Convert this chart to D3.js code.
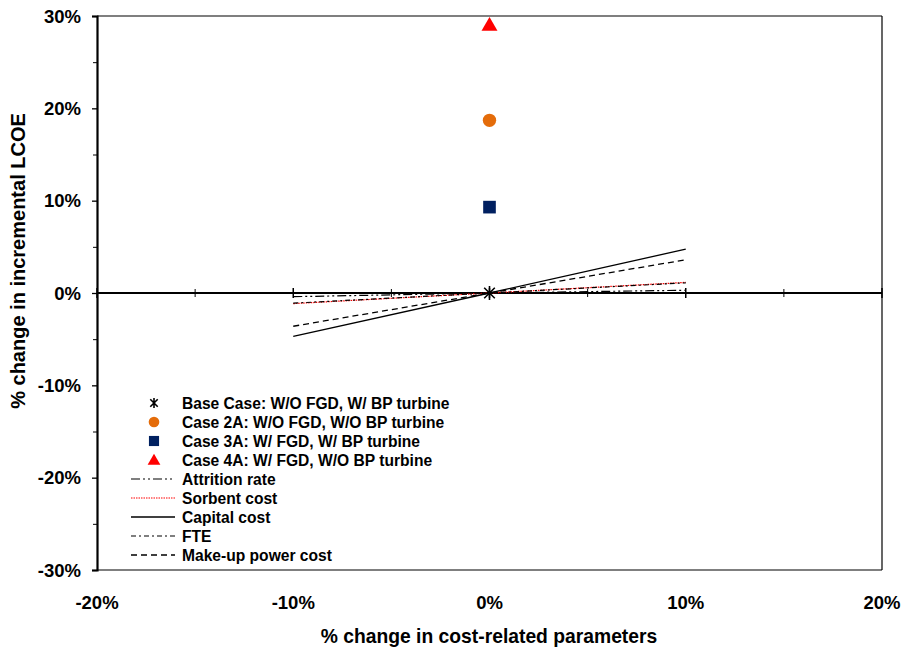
<!DOCTYPE html>
<html>
<head>
<meta charset="utf-8">
<script src="https://cdn.jsdelivr.net/npm/d3@7"></script>
<style>
  html, body { margin: 0; padding: 0; background: #fff; }
  svg { display: block; }
  text { font-family: "Liberation Sans", Arial, sans-serif; font-weight: bold; fill: #000; }
</style>
</head>
<body>
<svg id="chart" width="904" height="652"></svg>
<script>
// Sensitivity of incremental LCOE to ±10% changes in cost-related parameters
const xEnds = [-10, 0, 10];
const attritionRate = [-0.4, 0, 0.3];
const sorbentCost = [-1.15, 0, 1.15];
const capitalCost = [-4.7, 0, 4.75];
const fte = [-1.1, 0, 1.1];
const makeupPowerCost = [-3.6, 0, 3.6];

// Scenario points (all at 0% parameter change)
const caseNames = [
  "Base Case: W/O FGD, W/ BP turbine",
  "Case 2A: W/O FGD, W/O BP turbine",
  "Case 3A: W/ FGD, W/ BP turbine",
  "Case 4A: W/ FGD, W/O BP turbine"
];
const caseX = [0, 0, 0, 0];
const caseY = [0, 18.7, 9.3, 29.0];

const xTicks = [-20, -10, 0, 10, 20];
const yTicks = [-30, -20, -10, 0, 10, 20, 30];
const xMinorTicks = [-15, -5, 5, 15];
const yMinorTicks = [-25, -15, -5, 5, 15, 25];

const svg = d3.select("#chart");
const x = d3.scaleLinear().domain([-20, 20]).range([97, 882]);
const y = d3.scaleLinear().domain([-30, 30]).range([570, 16]);
const pct = d => d + "%";

// frame
svg.append("line").attr("x1", x(-20)).attr("x2", x(20)).attr("y1", y(30)).attr("y2", y(30))
  .attr("stroke", "#000").attr("stroke-width", 1.2);
svg.append("line").attr("x1", x(20)).attr("x2", x(20)).attr("y1", y(30)).attr("y2", y(-30))
  .attr("stroke", "#000").attr("stroke-width", 1.2);
svg.append("line").attr("x1", x(-20)).attr("x2", x(20)).attr("y1", y(-30)).attr("y2", y(-30))
  .attr("stroke", "#000").attr("stroke-width", 1.2);

// y axis (left)
const yAxis = svg.append("g").attr("transform", `translate(${x(-20)},0)`)
  .call(d3.axisLeft(y).tickValues(yTicks).tickFormat(pct).tickSize(5).tickPadding(11));
yAxis.select(".domain").attr("stroke-width", 2.2);
yAxis.selectAll(".tick line").attr("stroke-width", 1.3);
yAxis.selectAll(".tick text").attr("font-size", 18.5).attr("font-family", "Liberation Sans, Arial, sans-serif")
  .attr("font-weight", "bold").attr("dy", "0.34em");
svg.append("g").attr("transform", `translate(${x(-20)},0)`)
  .call(d3.axisLeft(y).tickValues(yMinorTicks).tickFormat("").tickSize(4))
  .call(g => g.select(".domain").remove())
  .selectAll(".tick line").attr("stroke-width", 1);

// zero line with crossing ticks
svg.append("line").attr("x1", x(-20)).attr("x2", x(20)).attr("y1", y(0)).attr("y2", y(0))
  .attr("stroke", "#000").attr("stroke-width", 2.2);
svg.append("g").selectAll("line").data(xTicks).join("line")
  .attr("x1", d => x(d)).attr("x2", d => x(d)).attr("y1", y(0) - 5).attr("y2", y(0) + 5)
  .attr("stroke", "#000").attr("stroke-width", 1.5);
svg.append("g").selectAll("line").data(xMinorTicks).join("line")
  .attr("x1", d => x(d)).attr("x2", d => x(d)).attr("y1", y(0) - 4).attr("y2", y(0) + 4)
  .attr("stroke", "#000").attr("stroke-width", 1);

// x tick labels along the bottom
svg.append("g").selectAll("text").data(xTicks).join("text")
  .attr("x", d => x(d)).attr("y", 609).attr("text-anchor", "middle")
  .attr("font-size", 18.5).text(pct);

// axis titles
svg.append("text").attr("x", 489).attr("y", 643).attr("text-anchor", "middle")
  .attr("font-size", 19.3).text("% change in cost-related parameters");
svg.append("text").attr("transform", "translate(25,261) rotate(-90)").attr("text-anchor", "middle")
  .attr("font-size", 20).text("% change in incremental LCOE");

// sensitivity lines
const series = [
  { name: "Attrition rate", values: attritionRate, color: "#000", width: 1.2, dash: "9,3,2,3,2,3" },
  { name: "Sorbent cost", values: sorbentCost, color: "#ff0000", width: 1.2, dash: "1.5,1" },
  { name: "Capital cost", values: capitalCost, color: "#000", width: 1.3, dash: null },
  { name: "FTE", values: fte, color: "#000", width: 1.2, dash: "5,3,2,3" },
  { name: "Make-up power cost", values: makeupPowerCost, color: "#000", width: 1.3, dash: "6,4" }
];
const line = d3.line().x((d, i) => x(xEnds[i])).y(d => y(d));
svg.append("g").selectAll("path").data(series).join("path")
  .attr("d", d => line(d.values)).attr("fill", "none")
  .attr("stroke", d => d.color).attr("stroke-width", d => d.width)
  .attr("stroke-dasharray", d => d.dash);

// scenario markers
const star = d3.symbol().type({
  draw(ctx, size) {
    const r = Math.sqrt(size) / 2;
    const a = r * 0.75;
    ctx.moveTo(0, -r); ctx.lineTo(0, r);
    ctx.moveTo(-a, -a); ctx.lineTo(a, a);
    ctx.moveTo(-a, a); ctx.lineTo(a, -a);
  }
});
const caseStyle = [
  { type: "star", color: "#000" },
  { type: "circle", color: "#e46c0a" },
  { type: "square", color: "#002060" },
  { type: "triangle", color: "#ff0000" }
];
function drawMarker(g, kind, color, scale) {
  if (kind === "star") {
    g.append("path").attr("d", star.size(200 * scale * scale)()).attr("fill", "none")
      .attr("stroke", color).attr("stroke-width", 1.6);
  } else if (kind === "circle") {
    g.append("path").attr("d", d3.symbol().type(d3.symbolCircle).size(140 * scale * scale)()).attr("fill", color);
  } else if (kind === "square") {
    g.append("path").attr("d", d3.symbol().type(d3.symbolSquare).size(160 * scale * scale)()).attr("fill", color);
  } else {
    g.append("path").attr("d", d3.symbol().type(d3.symbolTriangle).size(110 * scale * scale)())
      .attr("transform", "translate(0,1)").attr("fill", color);
  }
}
caseY.forEach((v, i) => {
  const g = svg.append("g").attr("transform", `translate(${x(caseX[i])},${y(v)})`);
  drawMarker(g, caseStyle[i].type, caseStyle[i].color, 1);
});

// legend
const legendX = 182, legendY0 = 403, legendStep = 19;
caseNames.forEach((name, i) => {
  const cy = legendY0 + i * legendStep;
  const g = svg.append("g").attr("transform", `translate(154,${cy})`);
  drawMarker(g, caseStyle[i].type, caseStyle[i].color, i === 0 ? 0.7 : 0.8);
  svg.append("text").attr("x", legendX).attr("y", cy + 5.5).attr("font-size", 15.6).text(name);
});
series.forEach((s, j) => {
  const cy = legendY0 + (caseNames.length + j) * legendStep;
  svg.append("line").attr("x1", 131).attr("x2", 175).attr("y1", cy).attr("y2", cy)
    .attr("stroke", s.color).attr("stroke-width", s.width).attr("stroke-dasharray", s.dash);
  svg.append("text").attr("x", legendX).attr("y", cy + 5.5).attr("font-size", 15.6).text(s.name);
});
</script>
</body>
</html>
